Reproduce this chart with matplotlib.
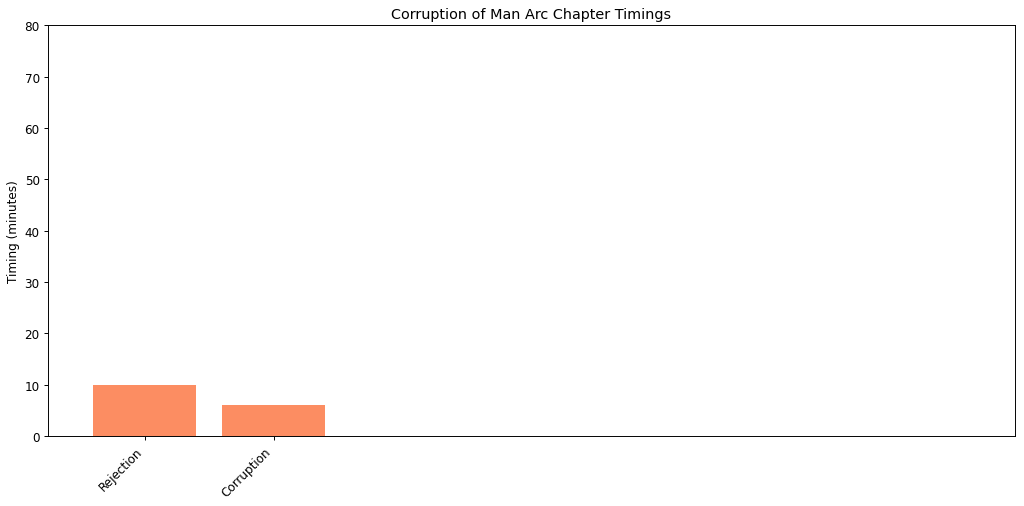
import matplotlib
matplotlib.use("Agg")
import matplotlib.pyplot as plt

chapters = ["Rejection", "Corruption"]
timings = [10, 6]

# drawn bigger and saved at a lower dpi, so text comes out a bit smaller
fig, ax = plt.subplots(figsize=(11.852, 5.868), dpi=86.4)
ax.bar(range(len(chapters)), timings, color="#fc8d62", width=0.8)
ax.set_xticks(range(len(chapters)))
ax.set_xticklabels(chapters, rotation=45, ha="right")
ax.set_xlim(-0.75, 6.75)
ax.set_ylim(0, 80)
ax.set_ylabel("Timing (minutes)")
ax.set_title("Corruption of Man Arc Chapter Timings")
fig.subplots_adjust(left=0.047, right=0.991, top=0.948, bottom=0.138)
fig.savefig("out.png", dpi=86.4)
